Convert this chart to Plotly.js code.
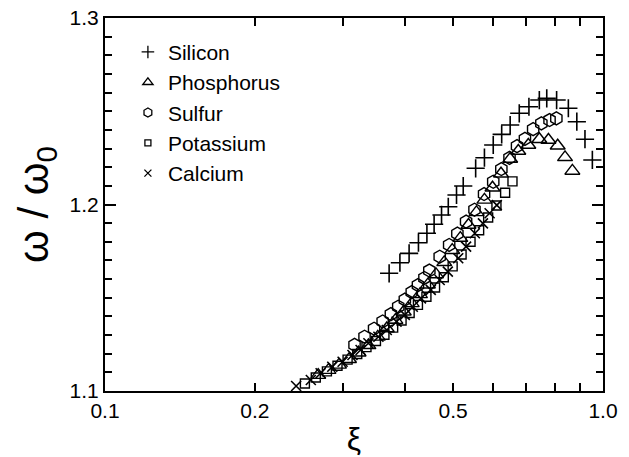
<!DOCTYPE html>
<html>
<head>
<meta charset="utf-8">
<script src="https://cdn.plot.ly/plotly-3.0.1.min.js"></script>
<style>
  html, body { margin: 0; padding: 0; background: #fff; }
  #chart { width: 629px; height: 457px; }
</style>
</head>
<body>
<div id="chart"></div>
<script>
// Frequency ratio omega/omega_0 versus reduced variable xi for five elements
const siliconXi = [0.372, 0.391, 0.408, 0.426, 0.443, 0.458, 0.474, 0.489, 0.508, 0.524, 0.555, 0.578,
                   0.602, 0.626, 0.651, 0.679, 0.710, 0.745, 0.771, 0.807, 0.852, 0.886, 0.920, 0.952];
const siliconW  = [1.1631, 1.1688, 1.1738, 1.1795, 1.1846, 1.1894, 1.1944, 1.1988, 1.2051, 1.2099, 1.2194, 1.2251,
                   1.2319, 1.2376, 1.2426, 1.2489, 1.2524, 1.2560, 1.2569, 1.2560, 1.2516, 1.2444, 1.2350, 1.2239];

const phosphorusXi = [0.268, 0.281, 0.295, 0.309, 0.323, 0.338, 0.353, 0.368, 0.383, 0.398, 0.413, 0.429, 0.445, 0.462, 0.480,
                      0.498, 0.517, 0.537, 0.557, 0.578, 0.600, 0.624, 0.651, 0.676, 0.708, 0.745, 0.777, 0.811, 0.839, 0.868];
const phosphorusW  = [1.1085, 1.1112, 1.1140, 1.1170, 1.1205, 1.1245, 1.1290, 1.1335, 1.1380, 1.1425, 1.1470, 1.1518, 1.1570, 1.1625, 1.1690,
                      1.1755, 1.1820, 1.1890, 1.1958, 1.2025, 1.2090, 1.2165, 1.2244, 1.2287, 1.2319, 1.2350, 1.2346, 1.2315, 1.2253, 1.2180];

const sulfurXi = [0.317, 0.332, 0.347, 0.361, 0.375, 0.388, 0.400, 0.413, 0.425, 0.438, 0.448, 0.470, 0.491,
                  0.510, 0.531, 0.552, 0.577, 0.602, 0.625, 0.649, 0.672, 0.697, 0.724, 0.752, 0.781, 0.806];
const sulfurW  = [1.1247, 1.1291, 1.1334, 1.1373, 1.1412, 1.1452, 1.1490, 1.1530, 1.1568, 1.1606, 1.1646, 1.1720, 1.1783,
                  1.1844, 1.1908, 1.1972, 1.2056, 1.2122, 1.2190, 1.2250, 1.2313, 1.2352, 1.2404, 1.2435, 1.2453, 1.2462];

const potassiumXi = [0.252, 0.265, 0.279, 0.293, 0.307, 0.321, 0.335, 0.350, 0.364, 0.379, 0.394, 0.409,
                     0.425, 0.442, 0.460, 0.479, 0.499, 0.520, 0.542, 0.564, 0.588, 0.611, 0.636, 0.658];
const potassiumW  = [1.1040, 1.1072, 1.1105, 1.1135, 1.1168, 1.1198, 1.1235, 1.1268, 1.1302, 1.1340, 1.1378, 1.1418,
                     1.1462, 1.1505, 1.1555, 1.1610, 1.1668, 1.1732, 1.1800, 1.1862, 1.1930, 1.1995, 1.2063, 1.2124];

const calciumXi = [0.242, 0.259, 0.271, 0.286, 0.300, 0.314, 0.326, 0.338, 0.354, 0.368, 0.385, 0.400,
                   0.415, 0.431, 0.451, 0.470, 0.488, 0.512, 0.531, 0.553, 0.574, 0.592, 0.612];
const calciumW  = [1.1027, 1.1059, 1.1095, 1.1130, 1.1157, 1.1193, 1.1220, 1.1256, 1.1291, 1.1327, 1.1372, 1.1408,
                   1.1452, 1.1497, 1.1542, 1.1595, 1.1640, 1.1712, 1.1774, 1.1846, 1.1899, 1.1953, 1.1997];

const seriesNames = ['Silicon', 'Phosphorus', 'Sulfur', 'Potassium', 'Calcium'];
const xTickVals = [0.1, 0.2, 0.3, 0.4, 0.5, 0.6, 0.7, 0.8, 0.9, 1.0];
const xTickText = ['0.1', '0.2', ' ', ' ', '0.5', ' ', ' ', ' ', ' ', '1.0'];

const FONT = 'Liberation Sans, Arial, sans-serif';
const INK = '#000';

const symbols = [
  { symbol: 'cross-thin', size: 13, lw: 1.6 },
  { symbol: 'triangle-up-open', size: 13, lw: 1.4 },
  { symbol: 'hexagon-open', size: 13, lw: 1.4 },
  { symbol: 'square-open', size: 9, lw: 1.4 },
  { symbol: 'x-thin', size: 10, lw: 1.6 }
];
const dataX = [siliconXi, phosphorusXi, sulfurXi, potassiumXi, calciumXi];
const dataY = [siliconW, phosphorusW, sulfurW, potassiumW, calciumW];

const traces = [];
// plotted points (drawn in reverse so crosses sit on top)
for (let i = dataX.length - 1; i >= 0; i--) {
  traces.push({
    x: dataX[i], y: dataY[i], type: 'scatter', mode: 'markers', name: seriesNames[i],
    showlegend: false,
    marker: { symbol: symbols[i].symbol, size: symbols[i].size, color: INK,
              line: { color: INK, width: symbols[i].lw } }
  });
}
// smaller legend keys
for (let i = 0; i < seriesNames.length; i++) {
  traces.push({
    x: [null], y: [null], type: 'scatter', mode: 'markers', name: seriesNames[i],
    showlegend: true,
    marker: { symbol: symbols[i].symbol, size: Math.round(symbols[i].size * 0.72), color: INK,
              line: { color: INK, width: 1.3 } }
  });
}

const layout = {
  width: 629, height: 457,
  margin: { l: 105, r: 26, t: 18, b: 66 },
  paper_bgcolor: '#fff', plot_bgcolor: '#fff',
  font: { family: FONT, size: 21, color: INK },
  showlegend: true,
  legend: {
    x: 0.046, y: 0.963, xanchor: 'left', yanchor: 'top',
    bgcolor: 'rgba(0,0,0,0)', borderwidth: 0,
    font: { family: FONT, size: 21, color: INK },
    itemwidth: 30, tracegroupgap: 0
  },
  xaxis: {
    type: 'log', range: [-1, 0],
    tickmode: 'array', tickvals: xTickVals, ticktext: xTickText,
    ticks: 'inside', ticklen: 8, tickwidth: 2, tickcolor: INK,
    showline: true, linecolor: INK, linewidth: 2, mirror: 'allticks',
    gridcolor: 'rgba(0,0,0,0)',
    tickfont: { family: FONT, size: 21, color: INK },
    title: { text: 'ξ', font: { family: FONT, size: 32, color: INK }, standoff: 6 }
  },
  yaxis: {
    range: [1.1, 1.3],
    tickmode: 'linear', tick0: 1.1, dtick: 0.1, tickformat: '.1f',
    ticks: 'inside', ticklen: 11, tickwidth: 2, tickcolor: INK,
    minor: { dtick: 0.01, ticks: 'inside', ticklen: 7, tickcolor: INK },
    showline: true, linecolor: INK, linewidth: 2, mirror: 'allticks',
    showgrid: false, zeroline: false,
    tickfont: { family: FONT, size: 21, color: INK },
    title: { text: 'ω / ω<sub>0</sub>', font: { family: FONT, size: 42, color: INK }, standoff: 8 }
  }
};

Plotly.newPlot('chart', traces, layout, { displayModeBar: false, staticPlot: true });
</script>
</body>
</html>
